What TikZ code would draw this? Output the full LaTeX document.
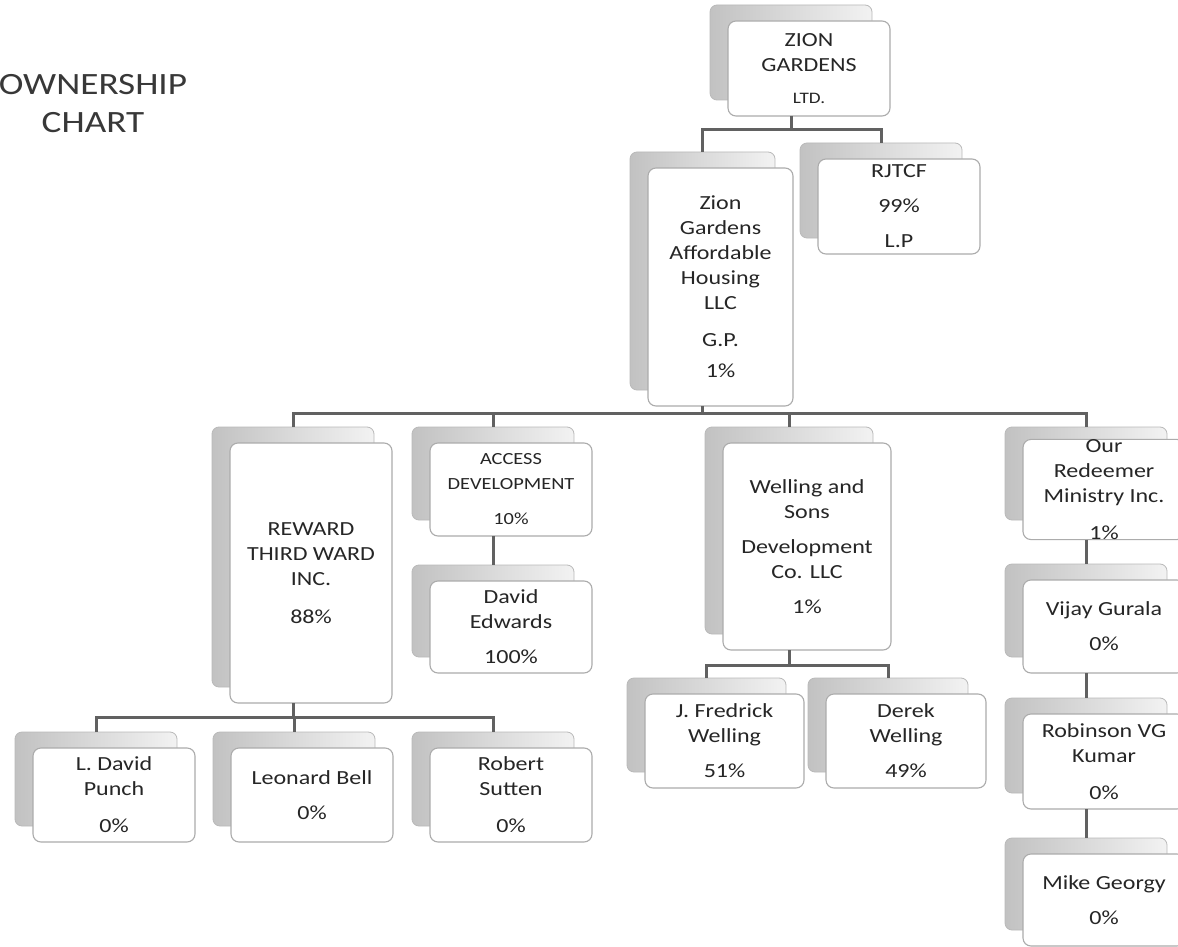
\documentclass[tikz,border=0pt]{standalone}
\usepackage{fontspec}
\setmainfont{Carlito}[FakeStretch=1.2]
\newcommand\cardfont{\fontsize{20}{25}\selectfont}
\newcommand\smallcardfont{\fontsize{17}{20}\selectfont}
\tikzset{
  backcard/.style={draw=gray!55, line width=0.8pt, rounded corners=7pt,
    left color=gray!48, right color=gray!10, inner sep=0pt, outer sep=0pt},
  frontcard/.style={draw=gray!65, line width=1.1pt, fill=white, rounded corners=8pt,
    align=center, text=black!85, font=\cardfont, inner sep=0pt, outer sep=0pt},
  conn/.style={draw=black!62, line width=3pt},
  charttitle/.style={align=center, text=black!78, font=\fontsize{31}{38}\selectfont},
}
% name, x1, y1, x2, y2 (back card), text
\newcommand\card[6]{%
  \node[backcard, minimum width={#4-#2}, minimum height={#5-#3}] (#1S)
    at ({(#2+#4)/2},{(#3+#5)/2}) {};
  \node[frontcard, minimum width={#4-#2}, minimum height={#5-#3}] (#1)
    at ({(#2+#4)/2+18},{(#3+#5)/2+16}) {#6};
}
\begin{document}
\begin{tikzpicture}[x=1pt,y=-1pt]
\useasboundingbox[fill=white] (0,0) rectangle (1178,947);

\node[charttitle] (title) at (93,104) {OWNERSHIP\\CHART};

\card{z}{710}{5}{872}{100}{ZION\\GARDENS\\[7pt]{\fontsize{16}{18}\selectfont LTD.}}
\card{gp}{630}{152}{775}{390}{Zion\\Gardens\\Affordable\\Housing\\LLC\\[12pt]G.P.\\[6pt]1\%}
\card{rj}{800}{143}{962}{238}{RJTCF\\[10pt]99\%\\[10pt]L.P}

\card{rw}{212}{427}{374}{687}{REWARD\\THIRD WARD\\INC.\\[13pt]88\%}
\card{ac}{412}{427}{574}{520}{\smallcardfont ACCESS\\\smallcardfont DEVELOPMENT\\[10pt]\smallcardfont 10\%}
\card{de}{412}{565}{574}{657}{David\\Edwards\\[10pt]100\%}
\card{wl}{705}{427}{873}{634}{Welling and\\Sons\\[10pt]Development\\Co. LLC\\[10pt]1\%}
\card{rd}{1005}{427}{1167}{520}{Our\\Redeemer\\Ministry Inc.\\[12pt]1\%}
\card{vj}{1005}{564}{1167}{657}{Vijay Gurala\\[10pt]0\%}
\card{rbn}{1005}{698}{1167}{793}{Robinson VG\\Kumar\\[12pt]0\%}
\card{mk}{1005}{838}{1167}{930}{Mike Georgy\\[10pt]0\%}

\card{ld}{15}{732}{177}{826}{L. David\\Punch\\[12pt]0\%}
\card{lb}{213}{732}{375}{826}{Leonard Bell\\[10pt]0\%}
\card{rob}{412}{732}{574}{826}{Robert\\Sutten\\[12pt]0\%}
\card{jf}{627}{678}{786}{772}{J. Fredrick\\Welling\\[10pt]51\%}
\card{dk}{808}{678}{968}{772}{Derek\\Welling\\[10pt]49\%}

\coordinate (b1) at (0,130);
\coordinate (b2) at (0,413);
\coordinate (b3) at (0,717);
\coordinate (b4) at (0,665);

% level 1
\draw[conn] (zS |- z.south) -- (zS |- b1) -| (gpS.north);
\draw[conn] (zS |- b1) -| (rjS.north);
% level 2
\draw[conn] (gpS |- gp.south) -- (gpS |- b2);
\draw[conn] (rwS.north) |- (rdS |- b2) -- (rdS.north);
\draw[conn] (acS |- b2) -- (acS.north);
\draw[conn] (wlS |- b2) -- (wlS.north);
% access
\draw[conn] (acS |- ac.south) -- (deS.north);
% reward
\draw[conn] (rwS |- rw.south) -- (rwS |- b3);
\draw[conn] (ldS.north) |- (robS |- b3) -- (robS.north);
\draw[conn] (lbS |- b3) -- (lbS.north);
% welling
\draw[conn] (wlS |- wl.south) -- (wlS |- b4);
\draw[conn] (jfS.north) |- (dkS |- b4) -- (dkS.north);
% redeemer column
\draw[conn] (rdS |- rd.south) -- (vjS.north);
\draw[conn] (vjS |- vj.south) -- (rbnS.north);
\draw[conn] (rbnS |- rbn.south) -- (mkS.north);
\end{tikzpicture}
\end{document}
